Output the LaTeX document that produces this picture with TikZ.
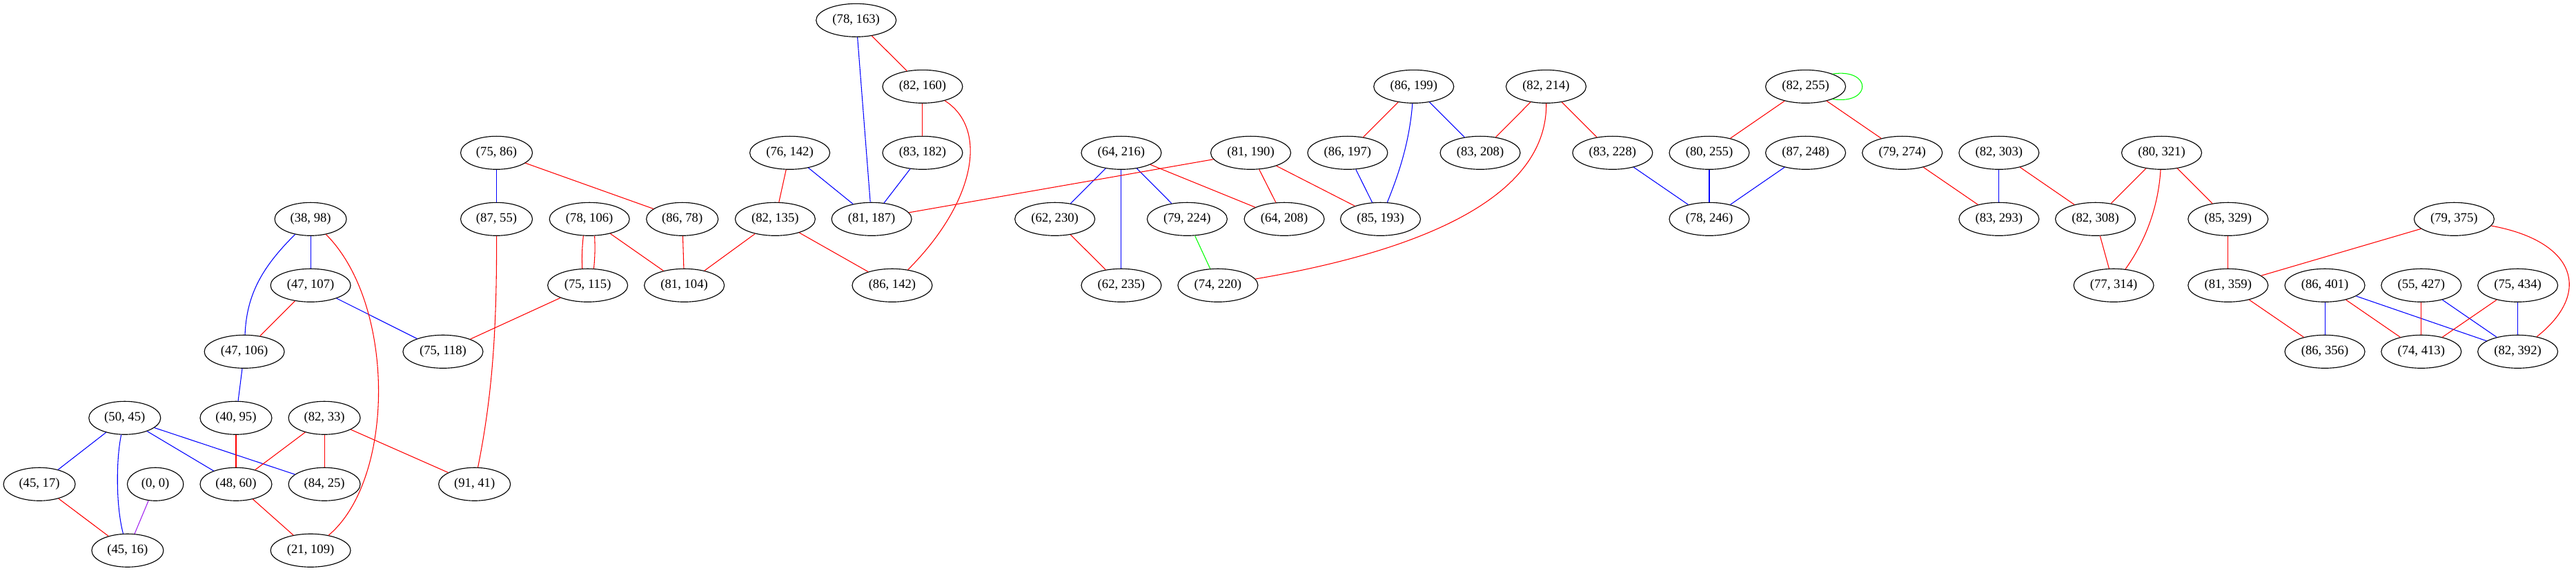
\documentclass[tikz,border=0pt]{standalone}
\usepackage{fontspec}
\setmainfont{Liberation Serif}
\usetikzlibrary{shapes.geometric}
\definecolor{gvpurple}{RGB}{160,32,240}
\begin{document}
\begin{tikzpicture}[x=1pt,y=-1pt,
  gn/.style={ellipse,draw=black,line width=0.85pt,minimum height=36pt,inner sep=0pt,font=\fontsize{14}{16}\selectfont},
  wa/.style={gn,minimum width=61pt},
  wb/.style={gn,minimum width=78pt},
  wc/.style={gn,minimum width=87pt},
  eR/.style={draw=red,line width=0.8pt},
  eB/.style={draw=blue,line width=0.8pt},
  eG/.style={draw=green,line width=0.8pt},
  eP/.style={draw=gvpurple,line width=0.8pt}]
\useasboundingbox (0,0) rectangle (2800,620.25);
% row 1
\node[wc] (n78x163) at (930.6,22) {(78, 163)};
% row 2
\node[wc] (n82x160) at (1002.8,94) {(82, 160)};
\node[wc] (n86x199) at (1536.7,94) {(86, 199)};
\node[wc] (n82x214) at (1680.5,94) {(82, 214)};
\node[wc] (n82x255) at (1962.6,94) {(82, 255)};
% row 3
\node[wb] (n75x86) at (539.7,166) {(75, 86)};
\node[wc] (n76x142) at (858.5,166) {(76, 142)};
\node[wc] (n83x182) at (1002.8,166) {(83, 182)};
\node[wc] (n64x216) at (1218.8,166) {(64, 216)};
\node[wc] (n81x190) at (1359.5,166) {(81, 190)};
\node[wc] (n86x197) at (1464.8,166) {(86, 197)};
\node[wc] (n83x208) at (1608.9,166) {(83, 208)};
\node[wc] (n83x228) at (1752.8,166) {(83, 228)};
\node[wc] (n80x255) at (1857.9,166) {(80, 255)};
\node[wc] (n87x248) at (1962.6,166) {(87, 248)};
\node[wc] (n79x274) at (2067.7,166) {(79, 274)};
\node[wc] (n82x303) at (2172.8,166) {(82, 303)};
\node[wc] (n80x321) at (2349.6,166) {(80, 321)};
% row 4
\node[wb] (n38x98) at (337.6,238) {(38, 98)};
\node[wb] (n87x55) at (539.7,238) {(87, 55)};
\node[wc] (n78x106) at (640.7,238) {(78, 106)};
\node[wb] (n86x78) at (741.6,238) {(86, 78)};
\node[wc] (n82x135) at (842.6,238) {(82, 135)};
\node[wc] (n81x187) at (947.4,238) {(81, 187)};
\node[wc] (n62x230) at (1146.6,238) {(62, 230)};
\node[wc] (n79x224) at (1290.4,238) {(79, 224)};
\node[wc] (n64x208) at (1395.9,238) {(64, 208)};
\node[wc] (n85x193) at (1500.5,238) {(85, 193)};
\node[wc] (n78x246) at (1857.9,238) {(78, 246)};
\node[wc] (n83x293) at (2172.8,238) {(83, 293)};
\node[wc] (n82x308) at (2277.6,238) {(82, 308)};
\node[wc] (n85x329) at (2421.8,238) {(85, 329)};
\node[wc] (n79x375) at (2667.5,238) {(79, 375)};
% row 5
\node[wc] (n47x107) at (337.6,310) {(47, 107)};
\node[wc] (n75x115) at (638.8,310) {(75, 115)};
\node[wc] (n81x104) at (743.8,310) {(81, 104)};
\node[wc] (n86x142) at (969.8,310) {(86, 142)};
\node[wc] (n62x235) at (1218.8,310) {(62, 235)};
\node[wc] (n74x220) at (1323.8,310) {(74, 220)};
\node[wc] (n77x314) at (2297.5,310) {(77, 314)};
\node[wc] (n81x359) at (2421.8,310) {(81, 359)};
\node[wc] (n86x401) at (2527,310) {(86, 401)};
\node[wc] (n55x427) at (2631.8,310) {(55, 427)};
\node[wc] (n75x434) at (2736.7,310) {(75, 434)};
% row 6
\node[wc] (n47x106) at (265.6,382) {(47, 106)};
\node[wc] (n75x118) at (481.5,382) {(75, 118)};
\node[wc] (n86x356) at (2527,382) {(86, 356)};
\node[wc] (n74x413) at (2631.8,382) {(74, 413)};
\node[wc] (n82x392) at (2736.7,382) {(82, 392)};
% row 7
\node[wb] (n50x45) at (135.6,454) {(50, 45)};
\node[wb] (n40x95) at (256.5,454) {(40, 95)};
\node[wb] (n82x33) at (352.6,454) {(82, 33)};
% row 8
\node[wb] (n45x17) at (42.8,526) {(45, 17)};
\node[wa] (n0x0) at (168.9,526) {(0, 0)};
\node[wb] (n48x60) at (256.5,526) {(48, 60)};
\node[wb] (n84x25) at (352.6,526) {(84, 25)};
\node[wb] (n91x41) at (515.8,526) {(91, 41)};
% row 9
\node[wb] (n45x16) at (138.7,598) {(45, 16)};
\node[wc] (n21x109) at (337.6,598) {(21, 109)};

% blue edges
\draw[eB] (n38x98) -- (n47x107);
\draw[eB] (n38x98) .. controls (285,290) and (268,320) .. (n47x106);
\draw[eB] (n47x107) -- (n75x118);
\draw[eB] (n47x106) -- (n40x95);
\draw[eB] (n50x45) -- (n45x17);
\draw[eB] (n50x45) .. controls (126,500) and (126,550) .. (n45x16);
\draw[eB] (n50x45) -- (n48x60);
\draw[eB] (n50x45) -- (n84x25);
\draw[eB] (n75x86) -- (n87x55);
\draw[eB] (n76x142) -- (n81x187);
\draw[eB] (n78x163) -- (n81x187);
\draw[eB] (n83x182) -- (n81x187);
\draw[eB] (n64x216) -- (n62x230);
\draw[eB] (n64x216) -- (n62x235);
\draw[eB] (n64x216) -- (n79x224);
\draw[eB] (n86x199) -- (n83x208);
\draw[eB] (n86x199) .. controls (1532,155) and (1520,190) .. (n85x193);
\draw[eB] (n86x197) -- (n85x193);
\draw[eB] (n83x228) -- (n78x246);
\draw[eB] (n80x255) -- (n78x246);
\draw[eB] (n87x248) -- (n78x246);
\draw[eB] (n82x303) -- (n83x293);
\draw[eB] (n86x401) -- (n86x356);
\draw[eB] (n86x401) -- (n82x392);
\draw[eB] (n55x427) -- (n82x392);
\draw[eB] (n75x434) -- (n82x392);

% red edges
\draw[eR] (n38x98) .. controls (430,330) and (430,520) .. (n21x109);
\draw[eR] (n47x107) -- (n47x106);
\draw[eR] (n40x95) -- (n48x60);
\draw[eR] (n82x33) -- (n48x60);
\draw[eR] (n82x33) -- (n84x25);
\draw[eR] (n82x33) -- (n91x41);
\draw[eR] (n45x17) -- (n45x16);
\draw[eR] (n48x60) -- (n21x109);
\draw[eR] (n75x86) -- (n86x78);
\draw[eR] (n87x55) .. controls (540,360) and (535,430) .. (n91x41);
\draw[eR] (n78x106.250) to[bend right=4] (n75x115.108);
\draw[eR] (n78x106.287) to[bend left=4] (n75x115.70);
\draw[eR] (n78x106) -- (n81x104);
\draw[eR] (n86x78) -- (n81x104);
\draw[eR] (n82x135) -- (n81x104);
\draw[eR] (n82x135) -- (n86x142);
\draw[eR] (n76x142) -- (n82x135);
\draw[eR] (n75x115) -- (n75x118);
\draw[eR] (n78x163) -- (n82x160);
\draw[eR] (n82x160) -- (n83x182);
\draw[eR] (n82x160) .. controls (1075,140) and (1060,220) .. (n86x142);
\draw[eR] (n81x190) -- (n81x187);
\draw[eR] (n64x216) -- (n64x208);
\draw[eR] (n81x190) -- (n64x208);
\draw[eR] (n81x190) -- (n85x193);
\draw[eR] (n62x230) -- (n62x235);
\draw[eR] (n86x199) -- (n86x197);
\draw[eR] (n82x214) -- (n83x208);
\draw[eR] (n82x214) -- (n83x228);
\draw[eR] (n82x214) .. controls (1682,230) and (1500,280) .. (n74x220);
\draw[eR] (n82x255) -- (n80x255);
\draw[eR] (n82x255) -- (n79x274);
\draw[eR] (n79x274) -- (n83x293);
\draw[eR] (n82x303) -- (n82x308);
\draw[eR] (n80x321) -- (n82x308);
\draw[eR] (n80x321) .. controls (2346,225) and (2332,262) .. (n77x314);
\draw[eR] (n80x321) -- (n85x329);
\draw[eR] (n82x308) -- (n77x314);
\draw[eR] (n85x329) -- (n81x359);
\draw[eR] (n79x375) -- (n81x359);
\draw[eR] (n79x375) .. controls (2800,262) and (2818,318) .. (n82x392);
\draw[eR] (n81x359) -- (n86x356);
\draw[eR] (n86x401) -- (n74x413);
\draw[eR] (n55x427) -- (n74x413);
\draw[eR] (n75x434) -- (n74x413);

% green edges
\draw[eG] (n79x224) -- (n74x220);
\draw[eG] (n82x255.25) .. controls (2035,74) and (2035,114) .. (n82x255.-25);

% purple edge
\draw[eP] (n0x0) -- (n45x16);
\end{tikzpicture}
\end{document}
